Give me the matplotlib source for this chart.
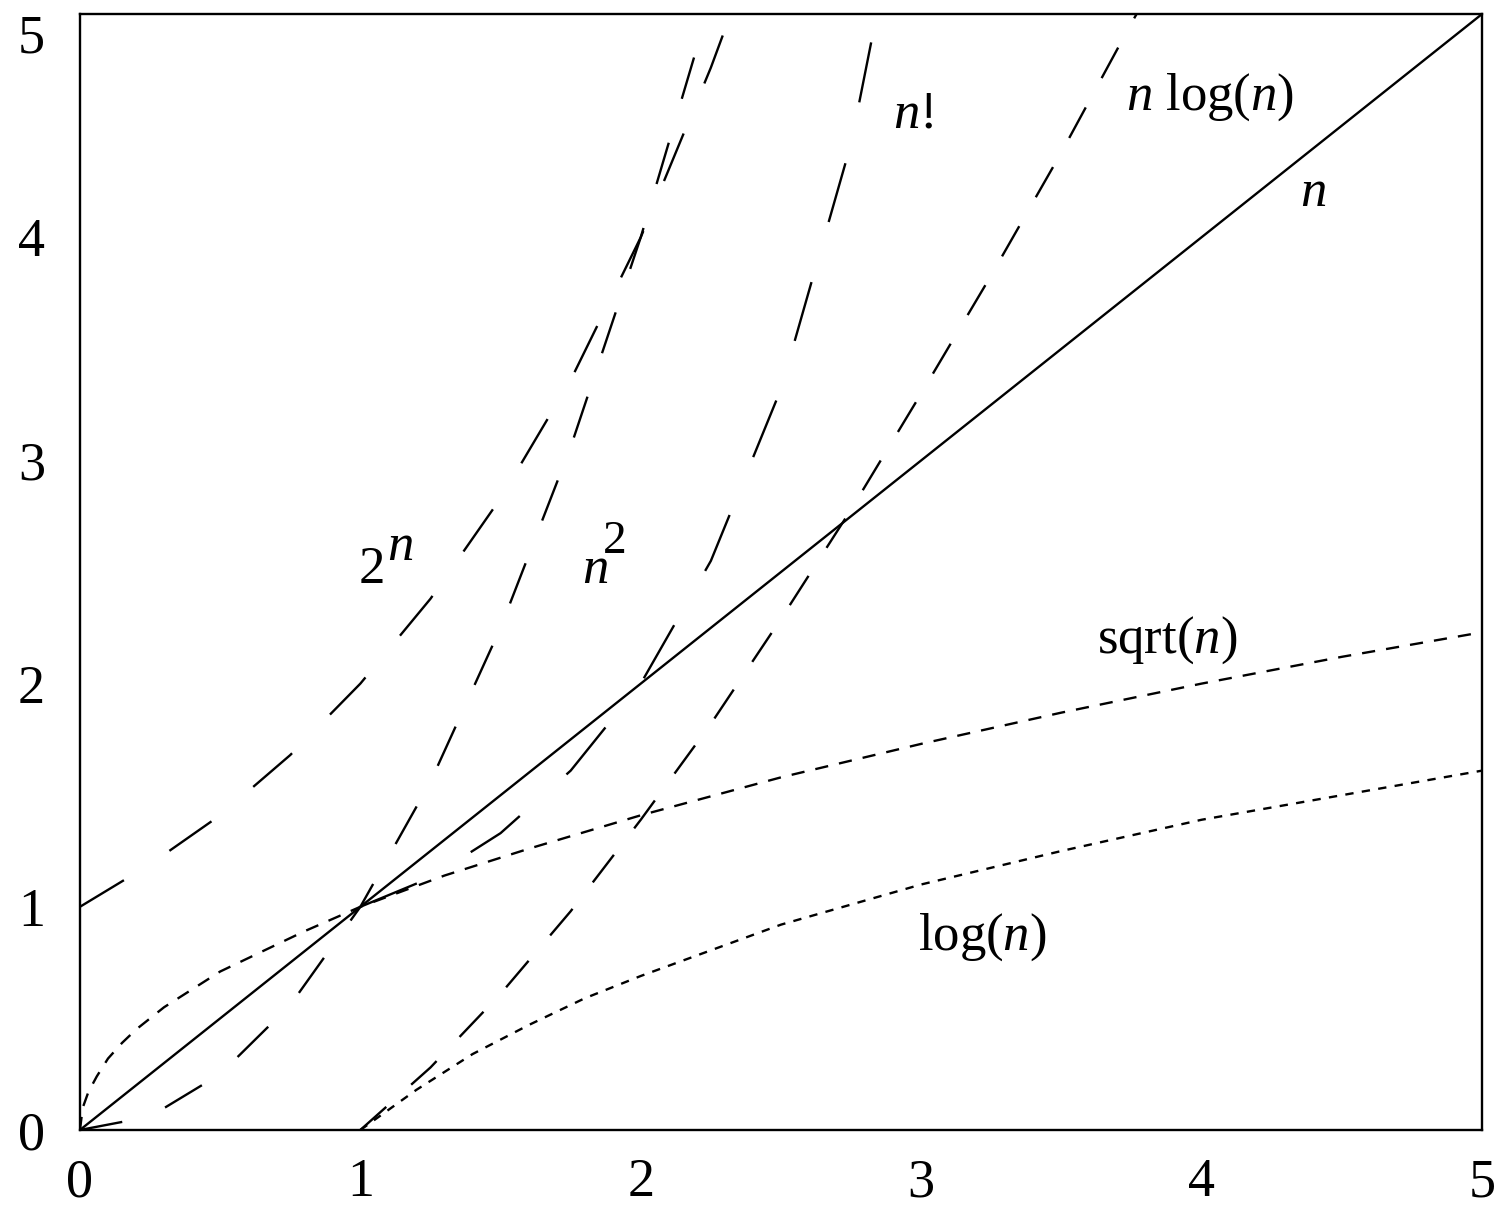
import matplotlib
matplotlib.use("Agg")
import matplotlib.pyplot as plt

plt.rcParams["font.family"] = ["Liberation Serif", "DejaVu Serif"]
plt.rcParams["mathtext.fontset"] = "custom"
plt.rcParams["mathtext.rm"] = "Liberation Serif"
plt.rcParams["mathtext.it"] = "Liberation Serif:italic"
plt.rcParams["lines.scale_dashes"] = False

# values
x_lin = [0, 5]
y_lin = [0, 5]

x_sqrt = [0, 0.01, 0.03, 0.06, 0.1, 0.15, 0.2, 0.3, 0.4, 0.5, 0.6, 0.8, 1.0,
          1.3, 1.6, 2.0, 2.5, 3.0, 3.5, 4.0, 4.5, 5.0]
y_sqrt = [0, 0.1, 0.17, 0.24, 0.32, 0.39, 0.45, 0.55, 0.63, 0.71, 0.77, 0.89, 1.0,
          1.14, 1.26, 1.41, 1.58, 1.73, 1.87, 2.0, 2.12, 2.23]

x_log = [1.0, 1.2, 1.4, 1.6, 1.8, 2.0, 2.5, 3.0, 3.5, 4.0, 4.5, 5.0]
y_log = [0, 0.18, 0.34, 0.47, 0.59, 0.69, 0.92, 1.10, 1.25, 1.39, 1.50, 1.61]

x_nlog = [1.0, 1.25, 1.5, 1.75, 2.0, 2.25, 2.5, 2.75, 3.0, 3.25, 3.5, 3.75, 3.8]
y_nlog = [0, 0.28, 0.61, 0.98, 1.39, 1.82, 2.29, 2.78, 3.30, 3.83, 4.38, 4.96, 5.07]

x_sq = [0, 0.25, 0.5, 0.75, 1.0, 1.25, 1.5, 1.75, 2.0, 2.25]
y_sq = [0, 0.06, 0.25, 0.56, 1.0, 1.56, 2.25, 3.06, 4.0, 5.06]

x_exp = [0, 0.25, 0.5, 0.75, 1.0, 1.25, 1.5, 1.75, 2.0, 2.25, 2.35]
y_exp = [1.0, 1.19, 1.41, 1.68, 2.0, 2.38, 2.83, 3.36, 4.0, 4.76, 5.10]

x_fact = [1.0, 1.25, 1.5, 1.75, 2.0, 2.25, 2.5, 2.75, 3.0]
y_fact = [1.0, 1.13, 1.33, 1.61, 2.0, 2.55, 3.32, 4.42, 6.0]

ticks = [0, 1, 2, 3, 4, 5]

fig = plt.figure(figsize=(15, 12.11), dpi=100)
ax = fig.add_axes([0.0533, 0.0669, 0.9347, 0.9215])

lw = 1.7
ax.plot(x_lin, y_lin, color="black", linewidth=lw)
ax.plot(x_sqrt, y_sqrt, color="black", linewidth=lw, dashes=(9.5, 8))
ax.plot(x_log, y_log, color="black", linewidth=lw, dashes=(6, 6))
ax.plot(x_nlog, y_nlog, color="black", linewidth=lw, dashes=(25, 24))
ax.plot(x_sq, y_sq, color="black", linewidth=lw, dashes=(31, 33))
ax.plot(x_exp, y_exp, color="black", linewidth=lw, dashes=(37, 39))
ax.plot(x_fact, y_fact, color="black", linewidth=lw, dashes=(44, 45))

fs = 38
ax.text(0.995, 2.45, "2", fontsize=fs)
ax.text(1.095, 2.554, "n", fontsize=fs, style="italic")
ax.text(1.79, 2.45, "n", fontsize=fs, style="italic")
ax.text(1.865, 2.585, "2", fontsize=34)
ax.text(2.90, 4.49, r"$n\mathrm{!}$", fontsize=fs)
ax.text(3.73, 4.57, r"$n$ log($n$)", fontsize=fs)
ax.text(4.35, 4.14, r"$n$", fontsize=fs)
ax.text(3.627, 2.137, r"sqrt($n$)", fontsize=fs)
ax.text(2.989, 0.806, r"log($n$)", fontsize=fs)

ax.set_xlim(0, 5)
ax.set_ylim(0, 5)
ax.set_xticks(ticks)
ax.set_yticks(ticks)
ax.set_xticklabels([str(t) for t in ticks])
ax.set_yticklabels([str(t) for t in ticks])
ax.tick_params(length=0, labelsize=39)
ax.tick_params(axis="y", pad=25)
ax.tick_params(axis="x", pad=20)
ax.get_yticklabels()[-1].set_verticalalignment("top")
for s in ax.spines.values():
    s.set_linewidth(1.7)

fig.savefig("out.png", dpi=100)
